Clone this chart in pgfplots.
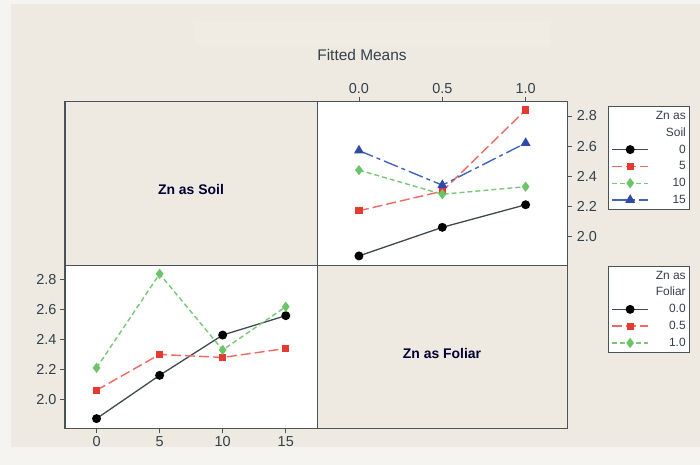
\documentclass[border=0pt]{standalone}
\usepackage{pgfplots}
\pgfplotsset{compat=1.18}
\usepackage{fontspec}
\setmainfont{Liberation Sans}
\definecolor{bgout}{HTML}{F6F4F0}
\definecolor{beige}{HTML}{EEEAE1}
\definecolor{framec}{HTML}{4A5458}
\definecolor{tickc}{HTML}{34404A}
\definecolor{blackline}{HTML}{3E4A50}
\definecolor{redm}{HTML}{E53A2F}
\definecolor{redl}{HTML}{EE6A62}
\definecolor{greenm}{HTML}{6CC46A}
\definecolor{greenl}{HTML}{78C878}
\definecolor{bluem}{HTML}{2D4BA6}
\definecolor{bluel}{HTML}{4262C0}
\pgfplotsset{
  panel/.style={
    scale only axis, clip=false,
    axis background/.style={fill=white},
    axis line style={draw=framec, line width=1.1bp},
    tick align=outside, major tick length=5bp,
    tick style={draw=framec, line width=0.9bp},
    tick label style={font=\fontsize{14.5}{16}\selectfont, text=tickc},
    ymin=1.805, ymax=2.895,
    ytick={2.0,2.2,2.4,2.6,2.8},
    yticklabels={2.0,2.2,2.4,2.6,2.8},
    legend style={
      draw=framec, line width=0.9bp, fill=white,
      font=\fontsize{12}{13}\selectfont, text=tickc,
      inner xsep=3bp, inner ysep=3bp,
      row sep=3.6bp, column sep=6bp,
      nodes={inner sep=1bp, text height=9bp, text depth=2.2bp},
    },
    legend cell align=right,
    legend image code/.code={
      \draw[mark repeat=2,mark phase=2] plot coordinates {(0bp,0bp) (18bp,0bp) (36bp,0bp)};
    },
  },
  sblack/.style={color=blackline, line width=1.3bp, solid, mark=*, mark size=3.8bp, mark options={solid, fill=black, draw=black}},
  sred/.style={color=redl, line width=1.4bp, dash pattern=on 10bp off 4bp, mark=square*, mark size=2.9bp, mark options={solid, fill=redm, draw=redm}},
  sgreen/.style={color=greenl, line width=1.4bp, dash pattern=on 5bp off 3bp, mark=diamond*, mark size=4bp, mark options={solid, fill=greenm, draw=greenm}},
  sblue/.style={color=bluel, line width=1.4bp, dash pattern=on 15bp off 4bp on 4bp off 4bp, mark=triangle*, mark size=4.4bp, mark options={solid, fill=bluem, draw=bluem}},
}
\begin{document}
\begin{tikzpicture}[x=1bp,y=1bp]
\path[use as bounding box] (0,0) rectangle (700,465);
\fill[bgout] (0,0) rectangle (700,465);
\fill[beige] (11,18.3) rectangle (700,460.5);
\fill[white, opacity=0.12] (195,420) rectangle (550,443);
\node[font=\fontsize{15.5}{17}\selectfont, text=tickc] at (362,410) {Fitted Means};
% left-top and right-bottom label panels
\draw[framec, line width=1.1bp, fill=beige] (65,199.3) rectangle (317.3,363.3);
\draw[framec, line width=1.1bp, fill=beige] (317.3,36.7) rectangle (567.3,199.3);
\node[font=\bfseries\fontsize{14}{16}\selectfont, text=black!80!blue] at (191,275) {Zn as Soil};
\node[font=\bfseries\fontsize{14}{16}\selectfont, text=black!80!blue] at (442,111) {Zn as Foliar};
% top-right: x = Zn as Foliar, lines = Zn as Soil
\begin{axis}[panel,
  at={(317.3bp,199.3bp)}, anchor=south west,
  width=250bp, height=164bp,
  xmin=-0.25, xmax=1.25,
  xtick={0,0.5,1}, xticklabels={0.0,0.5,1.0},
  xtick pos=right, xticklabel pos=right,
  ytick pos=right, yticklabel pos=right,
  yticklabel style={xshift=1bp},
  legend style={at={(1.163,0.974)}, anchor=north west},
]
\addlegendimage{empty legend}\addlegendentry{Zn as}
\addlegendimage{empty legend}\addlegendentry{Soil}
\addplot[sblack] coordinates {(0,1.87) (0.5,2.06) (1,2.21)};
\addlegendentry{0}
\addplot[sred] coordinates {(0,2.17) (0.5,2.30) (1,2.84)};
\addlegendentry{5}
\addplot[sgreen] coordinates {(0,2.44) (0.5,2.28) (1,2.33)};
\addlegendentry{10}
\addplot[sblue] coordinates {(0,2.57) (0.5,2.34) (1,2.62)};
\addlegendentry{15}
\end{axis}
% bottom-left: x = Zn as Soil, lines = Zn as Foliar
\begin{axis}[panel,
  at={(65bp,36.7bp)}, anchor=south west,
  width=252.3bp, height=162.6bp,
  xmin=-2.5, xmax=17.5,
  xtick={0,5,10,15}, xticklabels={0,5,10,15},
  xtick pos=left, xticklabel pos=left,
  ytick pos=left, yticklabel pos=left,
  legend style={at={(2.152,1.0)}, anchor=north west},
]
\addlegendimage{empty legend}\addlegendentry{Zn as}
\addlegendimage{empty legend}\addlegendentry{Foliar}
\addplot[sblack] coordinates {(0,1.87) (5,2.16) (10,2.43) (15,2.56)};
\addlegendentry{0.0}
\addplot[sred] coordinates {(0,2.06) (5,2.30) (10,2.28) (15,2.34)};
\addlegendentry{0.5}
\addplot[sgreen] coordinates {(0,2.21) (5,2.84) (10,2.33) (15,2.62)};
\addlegendentry{1.0}
\end{axis}
\end{tikzpicture}
\end{document}
